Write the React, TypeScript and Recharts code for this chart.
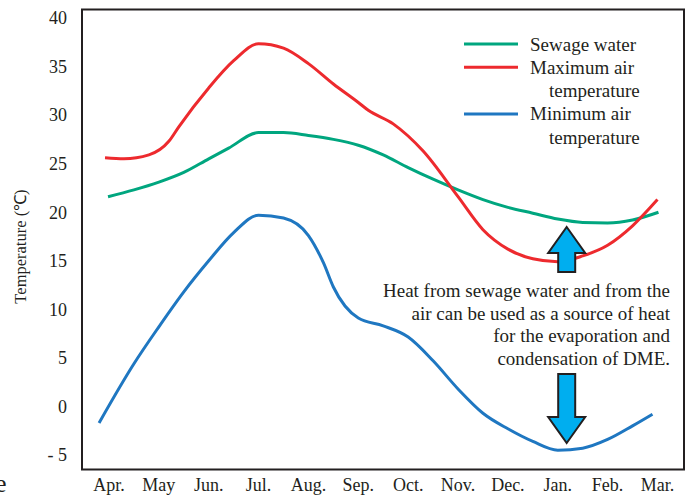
import React from "react";
import { LineChart, Line, XAxis, YAxis, ReferenceArea, Label } from "recharts";

const MONTHS = ["Apr.", "May", "Jun.", "Jul.", "Aug.", "Sep.", "Oct.", "Nov.", "Dec.", "Jan.", "Feb.", "Mar."];
const Y_TICKS = [-5, 0, 5, 10, 15, 20, 25, 30, 35, 40];

// month positions (0 = Apr.) and temperatures
const SEWAGE_POS = [-0.02, 0.5, 1, 1.5, 2, 2.4, 3, 3.5, 4, 4.5, 5, 5.5, 6, 6.5, 7, 7.5, 8, 8.5, 9, 9.5, 10, 10.5, 11.02];
const SEWAGE_T = [21.6, 22.3, 23.1, 24.1, 25.5, 26.6, 28.2, 28.2, 27.9, 27.5, 26.9, 25.9, 24.6, 23.4, 22.3, 21.3, 20.5, 19.9, 19.3, 18.95, 18.9, 19.2, 20.0];

const MAX_POS = [-0.08, 0.3, 0.8, 1.2, 1.4, 2, 2.5, 3, 3.5, 4, 4.5, 5, 5.2, 5.7, 6.3, 7, 7.5, 8, 8.5, 9, 9.5, 10, 10.5, 11];
const MAX_T = [25.6, 25.5, 25.9, 27.3, 28.8, 32.8, 35.6, 37.35, 36.9, 35.3, 33.2, 31.3, 30.5, 29.1, 26.3, 21.6, 18.2, 16.2, 15.2, 14.9, 15.5, 16.6, 18.6, 21.3];

const MIN_POS = [-0.2, 0.5, 1, 1.5, 2, 2.5, 3, 3.5, 4, 4.3, 4.5, 5, 5.5, 6, 6.5, 7, 7.5, 8, 8.5, 9, 9.5, 10, 10.5, 10.9];
const MIN_T = [-1.7, 4.4, 8.2, 11.8, 15.0, 17.9, 19.7, 19.4, 17.6, 14.8, 12.3, 9.1, 8.3, 7.15, 4.7, 1.8, -0.7, -2.3, -3.6, -4.5, -4.3, -3.4, -2.0, -0.8];

const NOTE_LINES = [
  "Heat from sewage water and from the",
  "air can be used as a source of heat",
  "for the evaporation and",
  "condensation of DME.",
];

const zip = (pos: number[], vals: number[]) => pos.map((m, i) => ({ m, t: vals[i] }));

const SERIES = [
  { name: "Sewage water", lines: ["Sewage water"], color: "#00a67f", data: zip(SEWAGE_POS, SEWAGE_T) },
  { name: "Maximum air temperature", lines: ["Maximum air", "temperature"], color: "#ed2a2e", data: zip(MAX_POS, MAX_T) },
  { name: "Minimum air temperature", lines: ["Minimum air", "temperature"], color: "#1f77c1", data: zip(MIN_POS, MIN_T) },
];

const X_DOMAIN: [number, number] = [-0.5415, 11.532];
const Y_DOMAIN: [number, number] = [-6.493, 40.875];
const INK = "#231f20";
const FONT = "Liberation Serif";

const tickStyle = { fill: INK, fontSize: 18, fontFamily: FONT };

const YLabel = (props: any) => {
  const vb = props.viewBox || { x: 0, y: 0, width: 0, height: 0 };
  const x = vb.x + 20;
  const y = vb.y + vb.height / 2 + 7;
  return (
    <text x={x} y={y} transform={`rotate(-90, ${x}, ${y})`} textAnchor="middle" dominantBaseline="central"
      fill={INK} fontSize={16.5} fontFamily={FONT}>
      Temperature (℃)
    </text>
  );
};

const Arrow = ({ cx, tip, base, end }: { cx: number; tip: number; base: number; end: number }) => {
  const pts = [
    [cx, tip], [cx + 18.5, base], [cx + 8.5, base], [cx + 8.5, end],
    [cx - 8.5, end], [cx - 8.5, base], [cx - 18.5, base],
  ].map((p) => p.join(",")).join(" ");
  return <polygon points={pts} fill="#00aeef" stroke={INK} strokeWidth={2} strokeLinejoin="miter" />;
};

const Overlay = () => {
  let row = 0;
  return (
    <svg width={685} height={498} style={{ position: "absolute", left: 0, top: 0, pointerEvents: "none" }}>
      {/* legend */}
      {SERIES.map((s) => {
        const y0 = 44 + row * 23.3;
        const el = (
          <g key={s.name}>
            <line x1={464} x2={518} y1={y0} y2={y0} stroke={s.color} strokeWidth={3} />
            {s.lines.map((txt, j) => (
              <text key={j} x={j === 0 ? 530 : 549} y={y0 + 6.5 + j * 23.3} fill={INK} fontSize={19} fontFamily={FONT}>
                {txt}
              </text>
            ))}
          </g>
        );
        row += s.lines.length;
        return el;
      })}
      {/* note */}
      {NOTE_LINES.map((txt, i) => (
        <text key={i} x={670} y={297 + i * 22.6} textAnchor="end" fill={INK} fontSize={19} fontFamily={FONT}>
          {txt}
        </text>
      ))}
      <Arrow cx={566.7} tip={227} base={253} end={272} />
      <Arrow cx={566.7} tip={443} base={417} end={374} />
      <text x={-5} y={492} fill={INK} fontSize={26} fontFamily={FONT}>e</text>
    </svg>
  );
};

export default function App() {
  return (
    <div style={{ position: "absolute", left: 0, top: 0, width: 685, height: 498, background: "#fff" }}>
      <LineChart width={685} height={498} margin={{ top: 9.5, right: 1, bottom: 0, left: 0 }}>
        <XAxis
          type="number"
          dataKey="m"
          domain={X_DOMAIN}
          ticks={MONTHS.map((_, i) => i)}
          tickFormatter={(v: number) => MONTHS[v] ?? ""}
          interval={0}
          allowDataOverflow
          axisLine={false}
          tickLine={false}
          tickMargin={3}
          height={28.5}
          tick={tickStyle}
        />
        <YAxis
          type="number"
          domain={Y_DOMAIN}
          ticks={Y_TICKS}
          tickFormatter={(v: number) => (v < 0 ? `- ${Math.abs(v)}` : String(v))}
          allowDataOverflow
          axisLine={false}
          tickLine={false}
          tickMargin={9}
          width={82}
          tick={tickStyle}
        >
          <Label content={YLabel} />
        </YAxis>
        <ReferenceArea
          x1={X_DOMAIN[0]}
          x2={X_DOMAIN[1]}
          y1={Y_DOMAIN[0]}
          y2={Y_DOMAIN[1]}
          fill="none"
          stroke={INK}
          strokeWidth={2}
          ifOverflow="visible"
        />
        {SERIES.map((s) => (
          <Line
            key={s.name}
            data={s.data}
            dataKey="t"
            name={s.name}
            type="monotone"
            stroke={s.color}
            strokeWidth={3}
            dot={false}
            activeDot={false}
            isAnimationActive={false}
          />
        ))}
      </LineChart>
      <Overlay />
    </div>
  );
}
